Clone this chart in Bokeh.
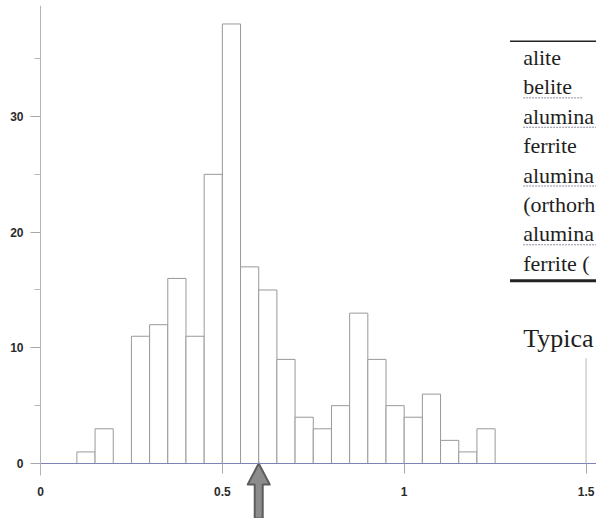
from bokeh.plotting import figure
from bokeh.models import Range1d, FixedTicker, Label
from bokeh.embed import file_html
from bokeh.resources import INLINE

# ---- data ----
bin_left = [0.10, 0.15, 0.20, 0.25, 0.30, 0.35, 0.40, 0.45, 0.50, 0.55, 0.60, 0.65,
            0.70, 0.75, 0.80, 0.85, 0.90, 0.95, 1.00, 1.05, 1.10, 1.15, 1.20]
bin_width = 0.05
counts = [1, 3, 0, 11, 12, 16, 11, 25, 38, 17, 15, 9,
          4, 3, 5, 13, 9, 5, 4, 6, 2, 1, 3]

x_ticks = [0, 0.5, 1, 1.5]
x_tick_labels = ["0", "0.5", "1", "1.5"]
y_ticks = [0, 10, 20, 30]
y_minor_ticks = [5, 15, 25, 35]
y_tick_labels = ["0", "10", "20", "30"]

marker_x = 0.6  # position of the arrow

# visible part of the table pasted over the upper right of the chart
table_rows = ["alite", "belite", "alumina", "ferrite", "alumina",
              "(orthorh", "alumina", "ferrite ("]
underlined_rows = [1, 2, 4, 6]
caption = "Typica"

# ---- figure ----
W, H = 596, 518
LEFT, TOP, BASE = 40, 5, 463   # pixel column of x=0, frame top, pixel row of count 0
PX_X = 363.7      # pixels per x unit
PX_Y = 11.567     # pixels per count

bin_right = [b + bin_width for b in bin_left]

x_left = -LEFT / PX_X
x_right = (W - LEFT) / PX_X
y_top = (BASE - TOP) / PX_Y
y_bottom = -(H - BASE) / PX_Y

p = figure(width=W, height=H, output_backend="svg", toolbar_location=None,
           x_range=Range1d(x_left, x_right),
           y_range=Range1d(y_bottom, y_top),
           min_border_left=0, min_border_right=0, min_border_top=TOP,
           min_border_bottom=0)
p.outline_line_color = None
p.grid.visible = False
p.background_fill_color = "white"
p.border_fill_color = "white"

# axes placed at x=0 and count=0 inside the frame
p.xaxis.fixed_location = 0
p.xaxis.bounds = (0, x_right)
p.xaxis.ticker = FixedTicker(ticks=x_ticks, minor_ticks=[])
p.xaxis.major_label_overrides = dict(zip(x_ticks, x_tick_labels))
p.xaxis.axis_line_color = "#7d84b5"
p.xaxis.major_tick_line_color = "#a8a8a8"
p.xaxis.major_tick_out = 10
p.xaxis.major_tick_in = 0
p.xaxis.minor_tick_out = 0
p.xaxis.minor_tick_in = 0
p.xaxis.major_label_standoff = 13

p.yaxis.fixed_location = 0
p.yaxis.ticker = FixedTicker(ticks=y_ticks, minor_ticks=y_minor_ticks)
p.yaxis.major_label_overrides = dict(zip(y_ticks, y_tick_labels))
p.yaxis.bounds = (-12 / PX_Y, y_top)
p.yaxis.axis_line_color = "#b0b4bc"
p.yaxis.major_tick_line_color = "#a8a8a8"
p.yaxis.minor_tick_line_color = "#b8b8b8"
p.yaxis.major_tick_out = 10
p.yaxis.major_tick_in = 0
p.yaxis.minor_tick_out = 6
p.yaxis.minor_tick_in = 0
p.yaxis.major_label_standoff = 7

for ax in (p.xaxis, p.yaxis):
    ax.major_label_text_font = "Liberation Sans"
    ax.major_label_text_font_style = "bold"
    ax.major_label_text_font_size = "12px"
    ax.major_label_text_color = "#2a2a2a"

# right frame line (visible below the pasted table)
p.segment(x0=[x_ticks[-1]], y0=[0], x1=[x_ticks[-1]], y1=[9.1],
          line_color="#b0b4bc", line_width=1)

# histogram bars
p.quad(left=bin_left, right=bin_right, bottom=0, top=counts,
       fill_color="white", line_color="#999999", line_width=1)

# arrow under the axis, pointing at marker_x (shape in pixels, converted to data)
shape_px = [(0, 0), (11, 21), (4, 21), (4, 55), (-4, 55), (-4, 21), (-11, 21)]
arrow_xs = [marker_x + dx / PX_X for dx, dy in shape_px]
arrow_ys = [-dy / PX_Y for dx, dy in shape_px]
p.patch(x=arrow_xs, y=arrow_ys, fill_color="#8c8c8c",
        line_color="#5e5e5e", line_width=2, line_join="round")

# overlapping table fragment
tx = 1.327
row_y0 = 35.1
row_step = 2.54
p.segment(x0=[1.291], y0=[36.5], x1=[1.6], y1=[36.5], line_color="#222222", line_width=1.5)
p.segment(x0=[1.291], y0=[15.8], x1=[1.6], y1=[15.8], line_color="#222222", line_width=3)
for i, r in enumerate(table_rows):
    y = row_y0 - i * row_step
    p.add_layout(Label(x=tx, y=y, text=r, text_font="Liberation Serif",
                       text_font_size="22px", text_baseline="middle",
                       text_color="#1e1e1e"))
for i in underlined_rows:
    y = row_y0 - i * row_step - 0.95
    x1 = 1.49 if table_rows[i] == "belite" else 1.6
    p.segment(x0=[tx], y0=[y], x1=[x1], y1=[y], line_color="#8c8ca0",
              line_width=1, line_dash="2 1")
p.add_layout(Label(x=tx, y=10.8, text=caption, text_font="Liberation Serif",
                   text_font_size="26px", text_baseline="middle",
                   text_color="#1e1e1e"))

open("out.html", "w").write(file_html(p, INLINE))
